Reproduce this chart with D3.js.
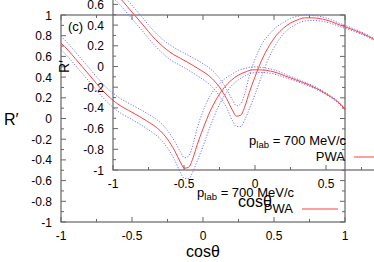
<!DOCTYPE html>
<meta charset="utf-8">
<style>
body { margin: 0; background: #fff; }
svg { display: block; overflow: hidden; }
text { font-family: "Liberation Sans", Arial, sans-serif; fill: #000; }
</style>
<svg width="374" height="262"></svg>
<script src="https://cdn.jsdelivr.net/npm/d3@7"></script>
<script>

// PWA curve (same curve shown in both panels)
var cosTheta = [-1, -0.95, -0.9, -0.85, -0.8, -0.7, -0.6, -0.5, -0.4, -0.3, -0.25, -0.2, -0.16, -0.13,
                -0.1, -0.07, -0.04, 0, 0.05, 0.1, 0.15, 0.2, 0.25, 0.3, 0.35, 0.4, 0.5, 0.6, 0.7, 0.8, 0.9, 0.95, 1];
var pwa = [0.73, 0.66, 0.58, 0.50, 0.42, 0.26, 0.14, 0.06, -0.02, -0.12, -0.20, -0.31, -0.42, -0.48,
           -0.47, -0.38, -0.25, -0.10, 0.07, 0.20, 0.30, 0.37, 0.42, 0.45, 0.47, 0.47, 0.45, 0.40, 0.35, 0.29, 0.21, 0.16, 0.09];
// error band, upper and lower dotted lines
var pwaUpper = [0.795, 0.725, 0.645, 0.565, 0.485, 0.325, 0.21, 0.13, 0.055, -0.04, -0.115, -0.22, -0.32, -0.38,
                -0.36, -0.25, -0.09, 0.07, 0.22, 0.31, 0.38, 0.425, 0.465, 0.485, 0.50, 0.495, 0.47, 0.415, 0.362, 0.30, 0.218, 0.168, 0.098];
var pwaLower = [0.665, 0.595, 0.515, 0.435, 0.355, 0.195, 0.07, -0.01, -0.095, -0.20, -0.285, -0.40, -0.52, -0.58,
                -0.58, -0.51, -0.41, -0.27, -0.08, 0.09, 0.22, 0.315, 0.375, 0.415, 0.44, 0.445, 0.43, 0.385, 0.338, 0.28, 0.202, 0.152, 0.082];

var xMajor = [-1, -0.5, 0, 0.5, 1];
var xMinor = [-0.75, -0.25, 0.25, 0.75];
var yMajor = [-1, -0.8, -0.6, -0.4, -0.2, 0, 0.2, 0.4, 0.6, 0.8, 1];
var yMinor = [-0.9, -0.7, -0.5, -0.3, -0.1, 0.1, 0.3, 0.5, 0.7, 0.9];

var svg = d3.select("svg");

function drawPanel(box, opt) {
  var x = d3.scaleLinear().domain([-1, 1]).range([box.left, box.right]);
  var y = d3.scaleLinear().domain([-1, 1]).range([box.bottom, box.top]);
  var g = svg.append("g");

  // frame
  g.append("rect")
      .attr("x", box.left).attr("y", box.top)
      .attr("width", box.right - box.left).attr("height", box.bottom - box.top)
      .attr("fill", "none").attr("stroke", "#666").attr("stroke-width", 1.2);

  // ticks on all four sides, pointing in
  function xt(vals, len) {
    vals.forEach(function(v) {
      g.append("line").attr("x1", x(v)).attr("x2", x(v))
          .attr("y1", box.bottom).attr("y2", box.bottom - len)
          .attr("stroke", "#666");
      g.append("line").attr("x1", x(v)).attr("x2", x(v))
          .attr("y1", box.top).attr("y2", box.top + len)
          .attr("stroke", "#666");
    });
  }
  function yt(vals, len) {
    vals.forEach(function(v) {
      g.append("line").attr("y1", y(v)).attr("y2", y(v))
          .attr("x1", box.left).attr("x2", box.left + len)
          .attr("stroke", "#666");
      g.append("line").attr("y1", y(v)).attr("y2", y(v))
          .attr("x1", box.right).attr("x2", box.right - len)
          .attr("stroke", "#666");
    });
  }
  xt(xMajor, 5); xt(xMinor, 3);
  yt(yMajor, 5); yt(yMinor, 3);

  g.selectAll(".xl").data(xMajor).enter().append("text")
      .attr("x", function(d) { return x(d); })
      .attr("y", box.bottom + 18)
      .attr("text-anchor", "middle")
      .style("font-size", "12px")
      .text(function(d) { return String(d); });

  g.selectAll(".yl").data(yMajor).enter().append("text")
      .attr("x", box.left - 9)
      .attr("y", function(d) { return y(d) + 4.5; })
      .attr("text-anchor", "end")
      .style("font-size", "12px")
      .text(function(d) { return String(d); });

  // curves
  var line = function(vals) {
    return d3.line().x(function(d, i) { return x(cosTheta[i]); })
        .y(function(d) { return y(d); })
        .curve(d3.curveMonotoneX)(vals);
  };
  [pwaUpper, pwaLower].forEach(function(band) {
    g.append("path").attr("d", line(band))
        .attr("fill", "none").attr("stroke", "#7373ff")
        .attr("stroke-width", 1).attr("stroke-dasharray", "1.2,1.6");
  });
  g.append("path").attr("d", line(pwa))
      .attr("fill", "none").attr("stroke", "#ff4040").attr("stroke-width", 1);

  // labels
  g.append("text").attr("x", box.left + 7).attr("y", box.top + 16)
      .style("font-size", "13px").text("(c)");

  g.append("text")
      .attr("x", (box.left + box.right) / 2).attr("y", opt.xlabY)
      .attr("text-anchor", "middle").style("font-size", "16px")
      .text("cosθ");

  if (opt.rotY) {
    g.append("text")
        .attr("transform", "translate(" + opt.ylabX + "," + y(0) + ") rotate(-90)")
        .attr("text-anchor", "middle").style("font-size", "14px")
        .text("R′");
  } else {
    g.append("text").attr("x", opt.ylabX).attr("y", y(0) + 6)
        .style("font-size", "16px").text("R′");
  }

  var key = g.append("text")
      .attr("x", box.right - 51).attr("y", box.top + 182)
      .attr("text-anchor", "end").style("font-size", "13px");
  key.append("tspan").text("p");
  key.append("tspan").attr("dy", 3).style("font-size", "9.5px").text("lab");
  key.append("tspan").attr("dy", -3).text(" = 700 MeV/c");

  g.append("text").attr("x", box.right - 52).attr("y", box.top + 198)
      .attr("text-anchor", "end").style("font-size", "13px").text("PWA");
  g.append("line")
      .attr("x1", box.right - 43).attr("x2", box.right - 7)
      .attr("y1", box.top + 194).attr("y2", box.top + 194)
      .attr("stroke", "#ff4040").attr("stroke-width", 1);
}

// outer panel, then the shifted overlay panel
drawPanel({left: 61, right: 345, top: 15, bottom: 222}, {xlabY: 257, ylabX: 4, rotY: false});
drawPanel({left: 113, right: 397, top: -37, bottom: 170}, {xlabY: 207, ylabX: 69, rotY: true});

</script>
